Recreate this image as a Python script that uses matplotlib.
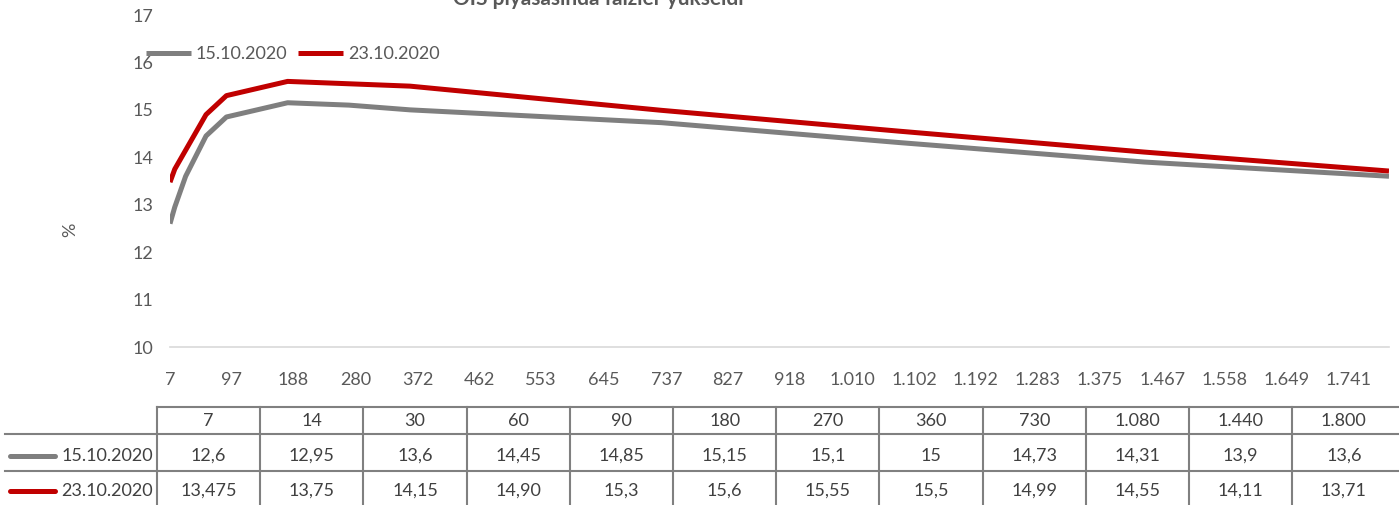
import matplotlib.pyplot as plt

plt.rcParams['font.family'] = ['Lato', 'DejaVu Sans']

# Vade (gün) ve OIS faizleri
days = [7, 14, 30, 60, 90, 180, 270, 360, 730, 1080, 1440, 1800]
day_labels = ["7", "14", "30", "60", "90", "180", "270", "360", "730", "1.080", "1.440", "1.800"]
rate_1510 = [12.6, 12.95, 13.6, 14.45, 14.85, 15.15, 15.1, 15.0, 14.73, 14.31, 13.9, 13.6]
rate_2310 = [13.475, 13.75, 14.15, 14.90, 15.3, 15.6, 15.55, 15.5, 14.99, 14.55, 14.11, 13.71]
text_1510 = ["12,6", "12,95", "13,6", "14,45", "14,85", "15,15", "15,1", "15", "14,73", "14,31", "13,9", "13,6"]
text_2310 = ["13,475", "13,75", "14,15", "14,90", "15,3", "15,6", "15,55", "15,5", "14,99", "14,55", "14,11", "13,71"]
series_names = ["15.10.2020", "23.10.2020"]

# x ekseni etiketleri (Excel tarih ekseni gibi ~91 günde bir)
xticks = [7, 97, 188, 280, 372, 462, 553, 645, 737, 827, 918, 1010, 1102,
          1192, 1283, 1375, 1467, 1558, 1649, 1741]
xtick_labels = ["7", "97", "188", "280", "372", "462", "553", "645", "737", "827",
                "918", "1.010", "1.102", "1.192", "1.283", "1.375", "1.467",
                "1.558", "1.649", "1.741"]

gray = "#7f7f7f"
red = "#c00000"
txt = "#595959"
fs = 13

W, H = 1399, 505
fig = plt.figure(figsize=(W / 100, H / 100), dpi=100)

# ana grafik
ax = fig.add_axes([170 / W, 1 - 347 / H, (1389 - 170) / W, (347 - 15) / H])
ax.plot(days, rate_1510, color=gray, lw=3.6, label=series_names[0], solid_capstyle='butt')
ax.plot(days, rate_2310, color=red, lw=3.6, label=series_names[1], solid_capstyle='butt')
ax.set_xlim(7, 1800)
ax.set_ylim(10, 17)
ax.set_yticks(range(10, 18))
ax.set_xticks(xticks)
ax.set_xticklabels(xtick_labels)
for s in ["top", "right", "left"]:
    ax.spines[s].set_visible(False)
ax.spines["bottom"].set_color("#d9d9d9")
ax.spines["bottom"].set_linewidth(1.2)
ax.tick_params(axis="both", length=0, labelcolor=txt, labelsize=fs)
ax.tick_params(axis="y", pad=12)
ax.tick_params(axis="x", pad=18)

fig.text(70 / W, 1 - 230 / H, "%", rotation=90, ha="center", va="center",
         color=txt, fontsize=fs)

# başlık (üstten kesik, referanstaki gibi)
fig.text(598 / W, 1 - 5 / H, "OIS piyasasında faizler yükseldi", ha="center",
         va="baseline", fontsize=15, fontweight="bold", color=txt)

leg = ax.legend(loc="upper left", bbox_to_anchor=(146 / W, 1 - 46 / H),
                bbox_transform=fig.transFigure, ncol=2, frameon=False,
                fontsize=fs, handlelength=2.5, handletextpad=0.25,
                columnspacing=0.6, borderpad=0, borderaxespad=0)
for t in leg.get_texts():
    t.set_color(txt)

# veri tablosu
tb = fig.add_axes([0, 0, 1, (H - 395) / H])
tb.set_xlim(0, W)
tb.set_ylim(H, 395)
tb.axis("off")

line_c = "#808080"
cell_txt = "#404040"
col0 = 157
colw = 103.2
top, r1, r2, bot = 407, 434, 471, 505
tb.plot([col0, W], [top, top], color=line_c, lw=1.5)
tb.plot([5, W], [r1, r1], color=line_c, lw=1.5)
tb.plot([5, W], [r2, r2], color=line_c, lw=1.5)
for i in range(len(days)):
    x = col0 + i * colw
    tb.plot([x, x], [top, bot], color=line_c, lw=1.5)

for i, lab in enumerate(day_labels):
    xc = col0 + (i + 0.5) * colw
    tb.text(xc, 421, lab, ha="center", va="center", fontsize=fs, color=cell_txt)
    tb.text(xc, 456, text_1510[i], ha="center", va="center", fontsize=fs, color=cell_txt)
    tb.text(xc, 491, text_2310[i], ha="center", va="center", fontsize=fs, color=cell_txt)

for yc, name, c in [(456, series_names[0], gray), (491, series_names[1], red)]:
    tb.plot([10, 55], [yc, yc], color=c, lw=3.6, solid_capstyle="round")
    tb.text(153, yc, name, ha="right", va="center", fontsize=fs, color=cell_txt)

fig.savefig("out.png", dpi=100)
